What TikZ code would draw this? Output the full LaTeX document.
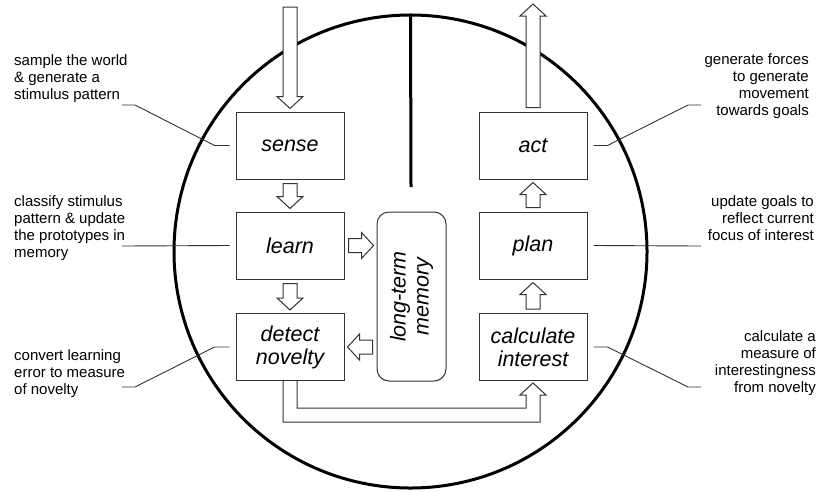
\documentclass[tikz,border=0pt]{standalone}
\usepackage{fontspec}
\setmainfont{Liberation Sans}
\usetikzlibrary{calc}
% hollow block arrow between two points
\newcommand{\fatarrow}[2]{%
  \coordinate (fa-s) at ($(#1)!4pt!(#2)$);
  \coordinate (fa-e) at ($(#2)!3pt!(#1)$);
  \coordinate (fa-h) at ($(fa-e)!12pt!(fa-s)$);
  \draw[hollow] ($(fa-s)!7pt!90:(fa-e)$) -- ($(fa-h)!7pt!90:(fa-e)$) -- ($(fa-h)!13pt!90:(fa-e)$)
    -- (fa-e) -- ($(fa-h)!13pt!-90:(fa-e)$) -- ($(fa-h)!7pt!-90:(fa-e)$) -- ($(fa-s)!7pt!-90:(fa-e)$) -- cycle;}

\begin{document}
\begin{tikzpicture}[x=1pt,y=-1pt,
  stage/.style={draw=black!80,line width=1pt,minimum width=108pt,minimum height=67pt,inner sep=0pt,align=center,
    font=\fontsize{21.5}{23}\selectfont\itshape},
  note/.style={inner sep=0pt,font=\fontsize{15}{17}\selectfont},
  hollow/.style={draw=black!80,fill=white,line width=1pt,line join=miter},
  leader/.style={draw=black!80,line width=0.9pt}]
  \useasboundingbox (0,0) rectangle (818,491);
  \node[circle,draw,line width=3pt,minimum size=473pt,inner sep=0pt] (ring) at (410.5,251.5) {};
  \coordinate (divide) at (411,187);
  \draw[line width=3pt] (ring.north) -- (divide);

  \node[stage] (sense) at (290,145.5) {sense};
  \node[stage] (learn) at (290,245.5) {learn};
  \node[stage] (detect) at (290,347) {detect\\novelty};
  \node[stage] (act) at (533,145.5) {act};
  \node[stage] (plan) at (533,245.5) {plan};
  \node[stage] (interest) at (533,347) {calculate\\interest};
  \node[draw=black!80,line width=1pt,rounded corners=12pt,minimum width=69pt,minimum height=169pt,inner sep=0pt] (memory) at (411.5,296.5) {};
  \node[rotate=90,align=center,font=\fontsize{21.5}{23}\selectfont\itshape] at (memory.center) {long-term\\memory};

  \coordinate (in) at (290,3);
  \coordinate (out) at (533,1);
  \coordinate (lm) at (learn.east -| memory.west);
  \coordinate (md) at (detect.east -| memory.west);
  \fatarrow{in}{sense.north}
  \fatarrow{sense.south}{learn.north}
  \fatarrow{learn.south}{detect.north}
  \fatarrow{learn.east}{lm}
  \fatarrow{md}{detect.east}
  \fatarrow{interest.north}{plan.south}
  \fatarrow{plan.north}{act.south}
  \fatarrow{act.north}{out}
  \draw[hollow] ($(detect.south)+(-7,0)$) |- ($(interest.south)+(7,41)$) -- ($(interest.south)+(7,14)$)
    -- ($(interest.south)+(13,14)$) -- ($(interest.south)+(0,2)$) -- ($(interest.south)+(-13,14)$)
    -- ($(interest.south)+(-7,14)$) |- ($(detect.south)+(7,27)$) -- ($(detect.south)+(7,0)$);

  % notes on the left
  \node[note,align=left,anchor=north west] (n-sense) at (14,54) {sample the world\\\& generate a\\stimulus pattern};
  \node[note,align=left,anchor=north west] (n-learn) at (14,195) {classify stimulus\\pattern \& update\\the prototypes in\\memory};
  \node[note,align=left,anchor=north west] (n-detect) at (14,349) {convert learning\\error to measure\\of novelty};
  % notes on the right
  \node[note,align=right,anchor=north east] (n-act) at (809,53) {generate forces\\to generate\\movement\\towards goals};
  \node[note,align=right,anchor=north east] (n-plan) at (814,195) {update goals to\\reflect current\\focus of interest};
  \node[note,align=right,anchor=north east] (n-interest) at (816,330) {calculate a\\measure of\\interestingness\\from novelty};

  \coordinate (l-sense) at (122,105);
  \coordinate (l-learn) at (122,246);
  \coordinate (l-detect) at (122,387);
  \coordinate (l-act) at (701,105);
  \coordinate (l-plan) at (701,246);
  \coordinate (l-interest) at (701,387);
  \draw[leader] (l-sense) -- ++(13,0) -- ($(sense.west)+(-21,0)$) -- ($(sense.west)+(-6,0)$);
  \draw[leader] (l-learn) -- ($(learn.west)+(-6,0)$);
  \draw[leader] (l-detect) -- ++(13,0) -- ($(detect.west)+(-21,0)$) -- ($(detect.west)+(-6,0)$);
  \draw[leader] (l-act) -- ++(-13,0) -- ($(act.east)+(20,0)$) -- ($(act.east)+(6,0)$);
  \draw[leader] (l-plan) -- ($(plan.east)+(6,0)$);
  \draw[leader] (l-interest) -- ++(-13,0) -- ($(interest.east)+(20,0)$) -- ($(interest.east)+(6,0)$);
\end{tikzpicture}
\end{document}
